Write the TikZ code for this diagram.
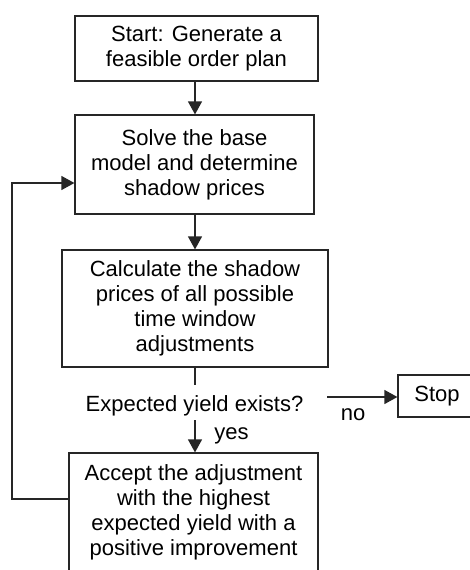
\documentclass[tikz,border=0pt]{standalone}
\usepackage{fontspec}
\setmainfont{Liberation Sans}
\usetikzlibrary{arrows.meta}
\begin{document}
\begin{tikzpicture}[x=1pt,y=-1pt,
  box/.style={draw=black!85,line width=1.2pt,align=center,inner sep=0pt,font=\fontsize{22}{25}\selectfont},
  lab/.style={inner sep=0pt,font=\fontsize{22}{25}\selectfont},
  arr/.style={draw=black!85,line width=1.2pt,-{Triangle[length=13pt,width=14pt]}},
  ln/.style={draw=black!85,line width=1.2pt}]
\useasboundingbox (0,0) rectangle (470,570);
\clip (0,0) rectangle (470,570);
\coordinate (ax) at (195,0);
\node[box,minimum width=243pt,minimum height=65pt] (b1) at (196.5,48.5) {Start: Generate a\\feasible order plan};
\node[box,minimum width=239pt,minimum height=99pt] (b2) at (194.5,164.5) {Solve the base\\model and determine\\shadow prices};
\node[box,minimum width=266pt,minimum height=117pt] (b3) at (195,308.5) {Calculate the shadow\\prices of all possible\\time window\\adjustments};
\node[lab,anchor=base] (dec) at (194.5,411) {Expected yield exists?};
\node[box,minimum width=249pt,minimum height=118pt] (b4) at (193.5,512) {Accept the adjustment\\with the highest\\expected yield with a\\positive improvement};
\node[box,minimum width=78pt,minimum height=42pt] (stop) at (437,396) {Stop};
\node[lab,anchor=base] (yes) at (231.5,439) {yes};
\node[lab,anchor=base] (no) at (353,420) {no};
\coordinate (d1) at (195,385);
\coordinate (d2) at (195,420);
\coordinate (n0) at (327,397);
\coordinate (fb1) at (12,499);
\coordinate (fb2) at (12,183);
\draw[arr] (b1.south -| ax) -- (b2.north -| ax);
\draw[arr] (b2.south -| ax) -- (b3.north -| ax);
\draw[ln] (b3.south -| ax) -- (d1);
\draw[arr] (d2) -- (b4.north -| d2);
\draw[arr] (n0) -- (stop.west |- n0);
\draw[arr] (b4.west |- fb1) -- (fb1) -- (fb2) -- (b2.west |- fb2);
\end{tikzpicture}
\end{document}
